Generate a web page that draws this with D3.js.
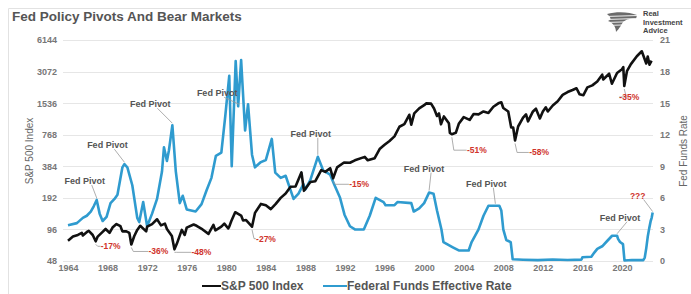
<!DOCTYPE html>
<html lang="en">
<head>
<meta charset="UTF-8">
<title>Fed Policy Pivots And Bear Markets</title>
<style>
  body { margin: 0; background: #fff; }
  svg { display: block; font-family: "Liberation Sans", Arial, sans-serif; }
  .tick-label { font-size: 9px; font-weight: bold; fill: #777; }
  .axis-title { font-family: "Liberation Sans Narrow", "Arial Narrow", "Liberation Sans", sans-serif; font-size: 10px; fill: #666; }
  .pivot { font-size: 9px; font-weight: bold; fill: #555; text-anchor: middle; }
  .drop { font-size: 8.5px; font-weight: bold; fill: #d0342c; text-anchor: middle; }
  .leader { fill: none; stroke: #999; stroke-width: 0.8; }
  .legend-text { font-size: 12px; font-weight: bold; fill: #555; }
</style>
</head>
<body>
<div id="chart"></div>
<script src="https://d3js.org/d3.v7.min.js"></script>
<script>
// tick labels
const xTicks = [1964, 1968, 1972, 1976, 1980, 1984, 1988, 1992, 1996, 2000, 2004, 2008, 2012, 2016, 2020];
const spxTicks = [48, 96, 192, 384, 768, 1536, 3072, 6144];
const rateTicks = [0, 3, 6, 9, 12, 15, 18, 21];

// S&P 500 index, [year, level]
const spx = [
  [1964.0, 75], [1964.5, 82], [1965.0, 85], [1965.4, 89], [1965.5, 84], [1966.0, 92], [1966.1, 93],
  [1966.5, 85], [1966.8, 74], [1967.0, 82], [1967.5, 91], [1967.8, 97], [1968.2, 89], [1968.5, 100],
  [1968.9, 108], [1969.3, 103], [1969.5, 92], [1969.9, 92], [1970.2, 89], [1970.4, 69], [1970.7, 83],
  [1971.0, 95], [1971.3, 104], [1971.9, 92], [1972.0, 102], [1972.5, 108], [1973.0, 120], [1973.4, 105],
  [1973.8, 109], [1974.0, 97], [1974.5, 83], [1974.76, 62], [1975.0, 70], [1975.5, 95], [1975.8, 85],
  [1976.0, 100], [1976.7, 107], [1977.0, 104], [1977.6, 96], [1978.2, 87], [1978.7, 106], [1978.9, 94],
  [1979.5, 102], [1979.8, 109], [1980.2, 98], [1980.3, 102], [1980.5, 115], [1980.9, 140], [1981.5, 130],
  [1981.7, 117], [1982.0, 118], [1982.6, 102], [1982.9, 138], [1983.5, 168], [1984.0, 163], [1984.5, 150],
  [1985.0, 168], [1985.5, 192], [1986.0, 211], [1986.5, 245], [1987.0, 246], [1987.6, 336], [1987.85, 224],
  [1988.5, 272], [1989.0, 277], [1989.6, 353], [1990.0, 340], [1990.5, 368], [1990.8, 295], [1991.2, 375],
  [1991.9, 417], [1992.5, 415], [1993.0, 438], [1994.0, 472], [1994.3, 438], [1995.0, 459], [1995.5, 560],
  [1996.0, 615], [1996.5, 670], [1997.0, 740], [1997.5, 915], [1998.0, 970], [1998.5, 1190], [1998.7, 957],
  [1999.0, 1229], [1999.5, 1370], [2000.0, 1469], [2000.2, 1527], [2000.7, 1520], [2001.0, 1366],
  [2001.3, 1160], [2001.5, 1224], [2001.7, 965], [2002.0, 1148], [2002.5, 990], [2002.6, 800], [2002.8, 777],
  [2003.2, 800], [2003.5, 975], [2004.0, 1130], [2004.6, 1063], [2005.0, 1211], [2005.5, 1200], [2006.0, 1280],
  [2006.5, 1240], [2007.0, 1418], [2007.5, 1530], [2007.8, 1565], [2008.0, 1380], [2008.5, 1280], [2008.8, 900],
  [2009.0, 900], [2009.19, 677], [2009.5, 920], [2010.0, 1115], [2010.3, 1200], [2010.5, 1030], [2011.0, 1280],
  [2011.3, 1360], [2011.7, 1099], [2012.0, 1277], [2012.3, 1400], [2012.5, 1278], [2013.0, 1460], [2013.5, 1600],
  [2014.0, 1840], [2014.5, 1960], [2015.0, 2050], [2015.4, 2130], [2015.7, 1870], [2016.1, 1829], [2016.5, 2170],
  [2017.0, 2270], [2017.5, 2470], [2018.0, 2870], [2018.1, 2580], [2018.7, 2930], [2018.98, 2350], [2019.5, 2980],
  [2020.0, 3230], [2020.13, 3386], [2020.23, 2237], [2020.5, 3100], [2020.9, 3620], [2021.5, 4300], [2022.0, 4796],
  [2022.45, 3666], [2022.6, 4280], [2022.78, 3577], [2022.95, 3839], [2023.0, 3900]
];

// Federal funds effective rate, [year, percent]
const fedFunds = [
  [1964.0, 3.4], [1964.9, 3.6], [1965.5, 4.1], [1965.9, 4.3], [1966.3, 4.7], [1966.6, 5.2], [1966.9, 5.8],
  [1967.2, 4.5], [1967.5, 3.8], [1967.9, 4.2], [1968.3, 5.5], [1968.7, 5.9], [1969.0, 6.3], [1969.5, 8.9],
  [1969.7, 9.2], [1970.0, 8.9], [1970.5, 7.2], [1971.0, 4.1], [1971.2, 3.7], [1971.6, 5.6], [1972.0, 3.3],
  [1972.5, 4.5], [1973.0, 5.9], [1973.5, 8.5], [1973.7, 10.8], [1974.0, 9.5], [1974.2, 10.5], [1974.55, 12.9],
  [1974.9, 8.5], [1975.3, 5.5], [1975.6, 6.2], [1976.0, 4.9], [1976.9, 4.7], [1977.5, 5.4], [1978.0, 6.7],
  [1978.5, 7.9], [1978.95, 10.0], [1979.5, 10.3], [1979.9, 13.8], [1980.3, 17.6], [1980.55, 9.0], [1980.95, 19.0],
  [1981.2, 14.7], [1981.5, 19.1], [1981.9, 12.4], [1982.2, 14.9], [1982.6, 10.1], [1982.9, 8.9], [1983.5, 9.4],
  [1984.0, 9.6], [1984.6, 11.6], [1984.95, 8.4], [1985.5, 7.9], [1986.0, 8.1], [1986.8, 5.9], [1987.3, 6.4],
  [1987.8, 7.3], [1988.0, 6.8], [1988.5, 7.7], [1989.25, 9.9], [1989.8, 8.6], [1990.5, 8.2], [1990.9, 7.3],
  [1991.5, 6.0], [1991.95, 4.4], [1992.5, 3.3], [1993.0, 3.0], [1993.9, 3.0], [1994.5, 4.3], [1995.1, 6.0],
  [1995.9, 5.6], [1996.1, 5.3], [1997.0, 5.3], [1997.3, 5.6], [1998.7, 5.5], [1998.95, 4.7], [1999.5, 5.0],
  [2000.0, 5.5], [2000.5, 6.5], [2000.95, 6.4], [2001.3, 4.8], [2001.75, 3.0], [2001.95, 1.8], [2002.9, 1.3],
  [2003.5, 1.0], [2004.5, 1.0], [2004.8, 1.8], [2005.5, 3.0], [2006.0, 4.3], [2006.5, 5.25], [2007.6, 5.25],
  [2007.8, 4.8], [2008.0, 3.0], [2008.3, 2.0], [2008.75, 1.8], [2008.95, 0.16], [2010.0, 0.12], [2011.5, 0.08],
  [2013.0, 0.14], [2014.5, 0.09], [2015.9, 0.13], [2016.0, 0.36], [2016.9, 0.41], [2017.2, 0.8], [2017.5, 1.15],
  [2018.0, 1.4], [2018.5, 1.9], [2019.0, 2.4], [2019.5, 2.4], [2019.6, 2.1], [2019.8, 1.8], [2020.1, 1.6],
  [2020.25, 0.05], [2021.0, 0.09], [2022.15, 0.08], [2022.3, 0.33], [2022.45, 1.2], [2022.6, 2.3],
  [2022.75, 3.1], [2022.9, 3.8], [2023.0, 4.1], [2023.1, 4.6]
];

// annotations
const pivotYears = [1966.9, 1969.7, 1974.55, 1981.3, 1989.25, 2000.5, 2007.2, 2019.5];
const pivotText = "Fed Pivot";
const drawdownYears = [1966.8, 1970.4, 1974.76, 1982.6, 1990.8, 2002.8, 2009.19, 2020.23];
const drawdownLabels = ["-17%", "-36%", "-48%", "-27%", "-15%", "-51%", "-58%", "-35%"];
const questionYear = 2023.1;

// label offsets from the annotated point (layout only)
const pivotOffsets = [[-12, -19], [-17, -19], [-22, -21], [-22, -13], [-7, -23], [-5, -24], [-9, -22], [3, -18]];
const dropOffsets = [[15, 5], [27, 7], [27, 3], [14, 12], [26, 6], [25, 16], [24, 12], [5, 11]];

const width = 691, height = 294;

const svg = d3.select("#chart").append("svg")
  .attr("width", width)
  .attr("height", height);

// light frame
svg.append("path")
  .attr("d", `M8.5,${height} V8.5 H${width}`)
  .attr("fill", "none")
  .attr("stroke", "#e2e2e2");

const x = d3.scaleLinear().domain([1964, 2020]).range([68, 622]);
const yL = d3.scaleLog().base(2).domain([48, 6144]).range([261, 40]);
const yR = d3.scaleLinear().domain([0, 21]).range([261, 40]);

// title
svg.append("text")
  .attr("x", 12).attr("y", 21)
  .attr("font-size", 13.5).attr("font-weight", "bold").attr("fill", "#555")
  .text("Fed Policy Pivots And Bear Markets");

// logo
const logo = svg.append("g");
logo.append("path")
  .attr("d", "M607,14 C617,11 630,12 637,15 L636,19 C631,18 626,19 623,22 C621,25 620,28 616,32 C616,27 613,23 608,21 C611,20 612,18 607,14 Z")
  .attr("fill", "#6b6b6b");
[16.5, 19.5, 22.5, 25.5].forEach(yy => {
  logo.append("line")
    .attr("x1", 605).attr("x2", 638).attr("y1", yy).attr("y2", yy - 1)
    .attr("stroke", "#fff").attr("stroke-width", 0.9);
});
["Real", "Investment", "Advice"].forEach((t, i) => {
  logo.append("text")
    .attr("x", 643).attr("y", 16 + i * 8.5)
    .attr("font-size", 7.5).attr("font-weight", "bold").attr("fill", "#444")
    .text(t);
});

// gridlines
svg.append("g").selectAll("line")
  .data(spxTicks)
  .join("line")
  .attr("x1", 63).attr("x2", 653)
  .attr("y1", d => Math.round(yL(d)) + 0.5).attr("y2", d => Math.round(yL(d)) + 0.5)
  .attr("stroke", "#e6e6e6").attr("stroke-width", 1);

// left axis
const leftAxis = svg.append("g")
  .attr("transform", "translate(57,0)")
  .call(d3.axisLeft(yL).tickValues(spxTicks).tickFormat(d3.format("d")).tickSize(0).tickPadding(0));
leftAxis.select(".domain").remove();
leftAxis.selectAll("text").attr("class", "tick-label").attr("font-family", null).attr("font-size", null);

// right axis
const rightAxis = svg.append("g")
  .attr("transform", "translate(660,0)")
  .call(d3.axisRight(yR).tickValues(rateTicks).tickSize(0).tickPadding(0));
rightAxis.select(".domain").remove();
rightAxis.selectAll("text").attr("class", "tick-label").attr("font-family", null).attr("font-size", null);

// bottom axis
const bottomAxis = svg.append("g")
  .attr("transform", "translate(0,263)")
  .call(d3.axisBottom(x).tickValues(xTicks).tickFormat(d3.format("d")).tickSize(0).tickPadding(2));
bottomAxis.select(".domain").remove();
bottomAxis.selectAll("text").attr("class", "tick-label").attr("font-family", null).attr("font-size", null);

// axis titles
svg.append("text")
  .attr("class", "axis-title")
  .attr("transform", "translate(33,151) rotate(-90)")
  .attr("text-anchor", "middle")
  .text("S&P 500 Index");
svg.append("text")
  .attr("class", "axis-title")
  .attr("transform", "translate(687,151) rotate(-90)")
  .attr("text-anchor", "middle")
  .text("Fed Funds Rate");

// series
const lineSpx = d3.line().x(d => x(d[0])).y(d => yL(d[1]));
const lineRate = d3.line().x(d => x(d[0])).y(d => yR(d[1]));

svg.append("path")
  .datum(fedFunds)
  .attr("d", lineRate)
  .attr("fill", "none")
  .attr("stroke", "#2f9bcf")
  .attr("stroke-width", 2.6)
  .attr("stroke-linejoin", "round");

svg.append("path")
  .datum(spx)
  .attr("d", lineSpx)
  .attr("fill", "none")
  .attr("stroke", "#111")
  .attr("stroke-width", 2.6)
  .attr("stroke-linejoin", "round");

// helpers to find series values at annotated years
const rateAt = yr => fedFunds.reduce((a, b) => Math.abs(b[0] - yr) < Math.abs(a[0] - yr) ? b : a)[1];
const spxAt = yr => spx.reduce((a, b) => Math.abs(b[0] - yr) < Math.abs(a[0] - yr) ? b : a)[1];

// Fed pivot annotations
const ann = svg.append("g");
pivotYears.forEach((yr, i) => {
  const px = x(yr), py = yR(rateAt(yr));
  const lx = px + pivotOffsets[i][0], ly = py + pivotOffsets[i][1];
  ann.append("path")
    .attr("class", "leader")
    .attr("d", `M${lx + 7},${ly + 4} L${px},${py - 2}`);
  ann.append("text")
    .attr("class", "pivot")
    .attr("x", lx).attr("y", ly + 3)
    .text(pivotText);
});

// question marks at latest rate
{
  const px = x(questionYear), py = yR(rateAt(questionYear));
  ann.append("path").attr("class", "leader")
    .attr("d", `M${px - 9},${py - 13} L${px},${py - 1}`);
  ann.append("text").attr("class", "drop")
    .attr("x", px - 15).attr("y", py - 14)
    .text("???");
}

// drawdown annotations
drawdownYears.forEach((yr, i) => {
  const px = x(yr), py = yL(spxAt(yr));
  const lx = px + dropOffsets[i][0], ly = py + dropOffsets[i][1];
  const tw = drawdownLabels[i].length * 4.6;
  ann.append("path")
    .attr("class", "leader")
    .attr("d", `M${px},${py + 3} L${px + 2},${ly} L${lx - tw / 2 - 1},${ly}`);
  ann.append("text")
    .attr("class", "drop")
    .attr("x", lx).attr("y", ly + 3)
    .text(drawdownLabels[i]);
});

// legend
const legend = svg.append("g").attr("transform", "translate(0,286)");
legend.append("line").attr("x1", 202).attr("x2", 221).attr("y1", 0).attr("y2", 0)
  .attr("stroke", "#111").attr("stroke-width", 2);
legend.append("text").attr("class", "legend-text").attr("x", 221).attr("y", 4).text("S&P 500 Index");
legend.append("line").attr("x1", 323).attr("x2", 347).attr("y1", 0).attr("y2", 0)
  .attr("stroke", "#2f9bcf").attr("stroke-width", 2);
legend.append("text").attr("class", "legend-text").attr("x", 347).attr("y", 4).text("Federal Funds Effective Rate");
</script>
</body>
</html>
